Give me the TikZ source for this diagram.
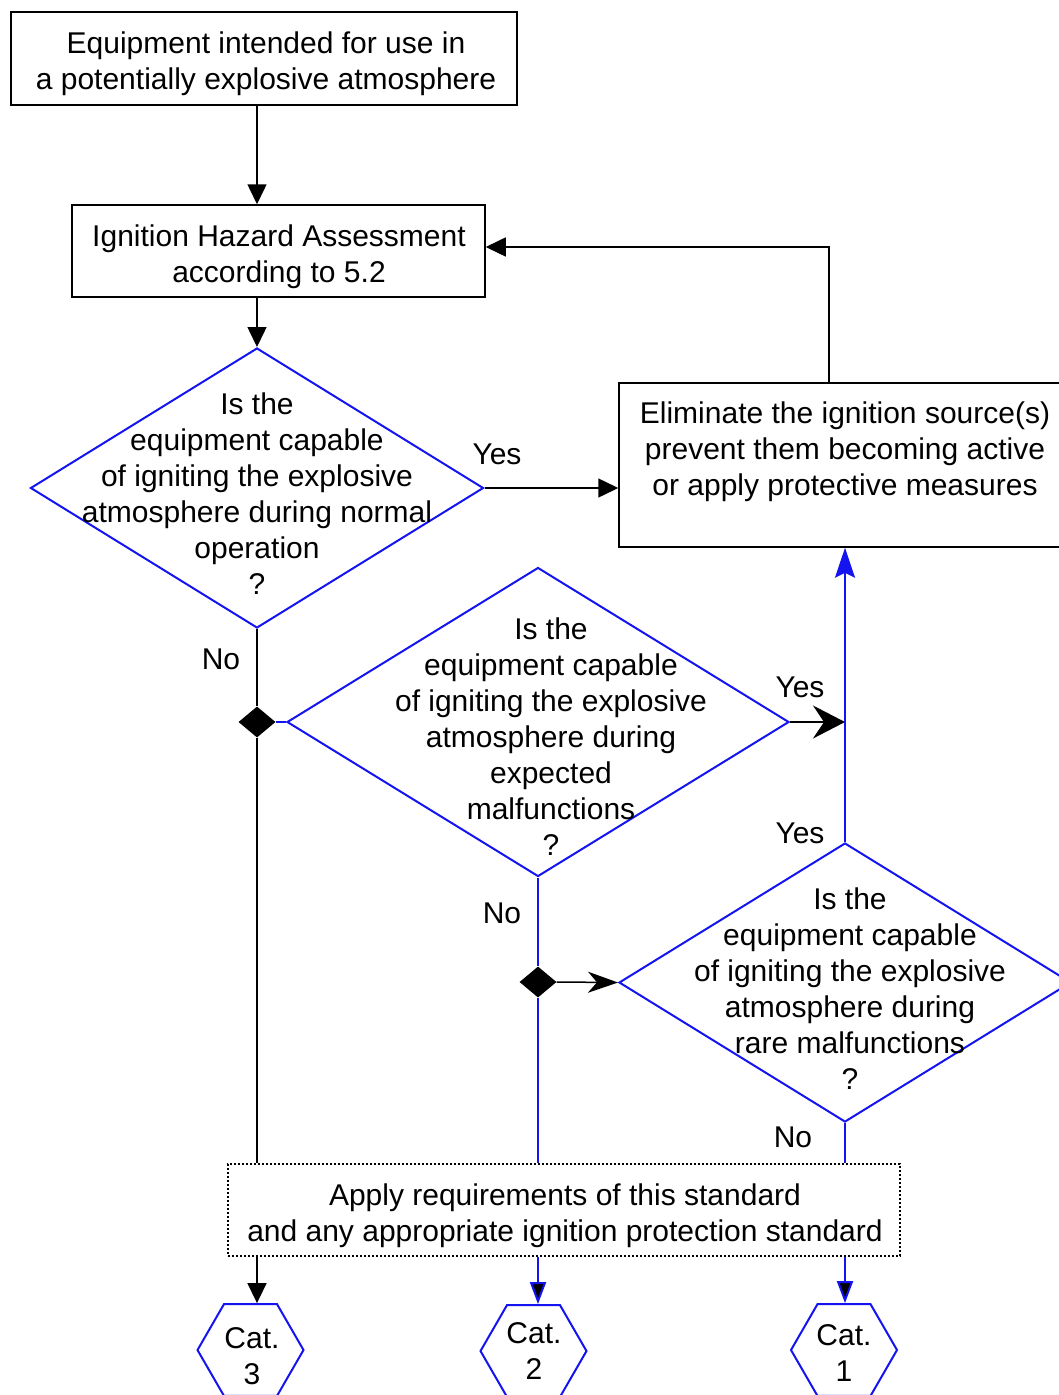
\documentclass[tikz,border=0pt]{standalone}
\usepackage{fontspec}
\setmainfont{Liberation Sans}
\usetikzlibrary{arrows.meta,shapes.geometric}
\definecolor{fblue}{RGB}{20,20,240}
\begin{document}
\begin{tikzpicture}[x=1pt,y=-1pt,
  every node/.style={font=\fontsize{30}{36}\selectfont, align=center, inner sep=0pt},
  blk/.style={draw=black, line width=1.5pt},
  bluel/.style={draw=fblue, line width=2pt},
  box/.style={draw=black, line width=1.5pt, rectangle},
  dia/.style={diamond, draw=fblue, line width=2pt},
  jun/.style={diamond, fill=black, minimum width=37pt, minimum height=31pt},
  hex/.style={regular polygon, regular polygon sides=6, draw=fblue, line width=2pt, minimum size=106pt},
  tri/.style={-{Triangle[length=20pt,width=19pt]}},
  stl/.style={-{Stealth[length=30pt,width=21pt,inset=9pt]}},
  stlbig/.style={-{Stealth[length=32pt,width=33pt,inset=11pt]}},
  btri/.style={-{Triangle[length=22pt,width=16pt,fill=black]}},
  bstl/.style={-{Stealth[length=30pt,width=20pt,inset=5pt]}}
]
\fill[white] (0,0) rectangle (1058,1395);
\useasboundingbox (0,0) rectangle (1058,1395);

% shapes
\node[box, minimum width=506pt, minimum height=93pt] (b1) at (264,58.5) {};
\node (t0) at (266,64) {Equipment intended for use in\\a potentially explosive atmosphere};
\node[box, minimum width=413pt, minimum height=92pt] (b2) at (278.5,251) {};
\node (tb2) at (279,257) {Ignition Hazard Assessment\\according to 5.2};
\node[dia, minimum width=453pt, minimum height=280pt] (d1) at (257,488) {};
\node (t1) at (257,494) {Is the\\equipment capable\\of igniting the explosive\\atmosphere during normal\\operation\\?};
\node[box, minimum width=452pt, minimum height=164pt] (b3) at (845,465) {};
\node (t3) at (845,452) {Eliminate the ignition source(s)\\prevent them becoming active\\or apply protective measures};
\node[dia, minimum width=502pt, minimum height=309pt] (d2) at (538,722) {};
\node (t2) at (551,737) {Is the\\equipment capable\\of igniting the explosive\\atmosphere during\\expected\\malfunctions\\?};
\node[dia, minimum width=452pt, minimum height=279pt] (d3) at (845,982.5) {};
\node (t4) at (850,989) {Is the\\equipment capable\\of igniting the explosive\\atmosphere during\\rare malfunctions\\?};
\node[jun] (j1) at (257,722) {};
\node[jun] (j2) at (538,982) {};
\node[draw, line width=1.5pt, dash pattern=on 2pt off 2pt, minimum width=672pt, minimum height=92pt] (b4) at (564,1210) {};
\node (tb4) at (565,1216) {Apply requirements of this standard\\and any appropriate ignition protection standard};
\node[hex] (h3) at (250.5,1350) {};
\node[hex] (h2) at (533.5,1351) {};
\node[hex] (h1) at (844,1350) {};
\node (c3) at (252,1356) {Cat.\\3};
\node (c2) at (534,1351) {Cat.\\2};
\node (c1) at (844,1353) {Cat.\\1};

% labels
\node (y1) at (497,454) {Yes};
\node (n1) at (221,659) {No};
\node (y2) at (800,687) {Yes};
\node (y3) at (800,833) {Yes};
\node (n2) at (502,913) {No};
\node (n3) at (793,1137) {No};

% connectors
\draw[blk,tri] (b1.south -| d1.north) -- (b2.north -| d1.north);
\draw[blk,tri] (b2.south -| d1.north) -- (d1.north);
\draw[blk,tri] (d1.east) -- (d1.east -| b3.west);
\coordinate (fb) at (829,247);
\draw[blk,tri] (b3.north -| fb) -- (fb) -- (fb -| b2.east);
\draw[blk] (d1.south) -- (j1.north);
\draw[blk] (j1.south) -- (j1 |- b4.north);
\draw[bluel] (j1.east) -- (d2.west);
\coordinate (ya) at (845,722);
\draw[blk,stlbig] (d2.east) -- (ya);
\draw[bluel,bstl] (d3.north) -- (b3.south -| d3.north);
\draw[bluel] (d2.south) -- (j2.north);
\draw[bluel] (j2.south) -- (j2 |- b4.north);
\draw[blk,stl] (j2.east) -- (d3.west);
\draw[bluel] (d3.south) -- (d3.south |- b4.north);
\draw[blk,tri] (j1 |- b4.south) -- (j1 |- h3.north);
\draw[bluel,btri] (j2 |- b4.south) -- (j2 |- h2.north);
\draw[bluel,btri] (d3.south |- b4.south) -- (d3.south |- h1.north);
\end{tikzpicture}
\end{document}
